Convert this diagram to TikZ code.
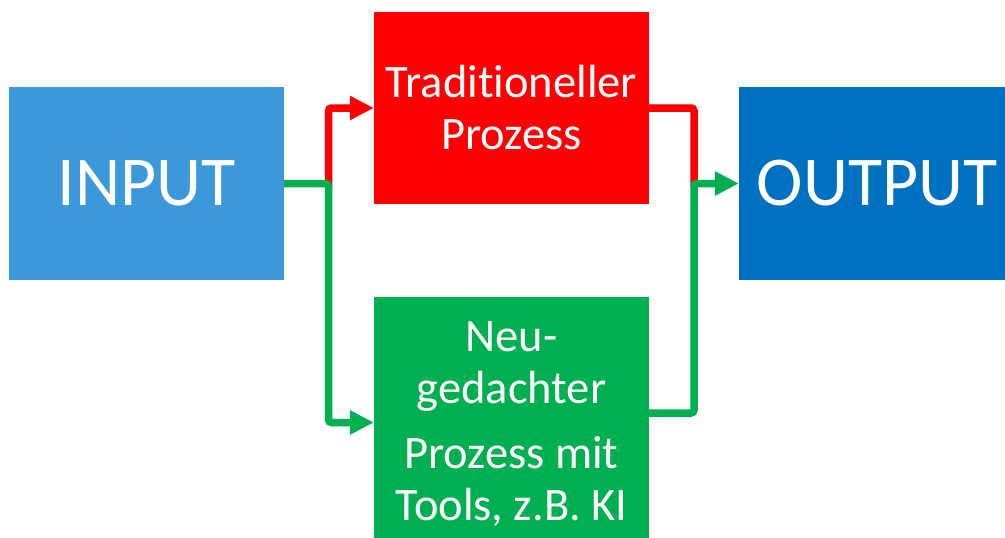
\documentclass[tikz,border=0pt]{standalone}
\usepackage{fontspec}
\setmainfont{Carlito}[Ligatures={NoCommon,NoRare,NoContextual},RawFeature={-liga;-clig;-dlig;-calt}]
\usetikzlibrary{arrows.meta}
\definecolor{inblue}{HTML}{3A98DB}
\definecolor{outblue}{HTML}{0070C0}
\definecolor{tradred}{HTML}{FF0000}
\definecolor{neugreen}{HTML}{00B050}
\tikzset{
  x=1pt, y=-1pt,
  procbox/.style={rectangle, draw=none, inner sep=0pt, minimum width=275pt, text=white, align=center,
    font=\fontsize{46.5}{52}\selectfont},
  endbox/.style={rectangle, draw=none, inner sep=0pt, minimum height=193pt, text=white,
    font=\fontsize{70}{84}\selectfont},
  conn/.style={line width=7.5pt, rounded corners=3pt},
  tip/.style={-{Triangle[length=24pt,width=23pt]}}
}
\begin{document}
\begin{tikzpicture}
\useasboundingbox (0,0) rectangle (1005,538);
\node[endbox, fill=inblue, minimum width=275pt] (input) at (146.5,183.5) {INPUT};
\node[endbox, fill=outblue, minimum width=276pt] (output) at (877,183.5) {OUTPUT};
\node[procbox, fill=tradred, minimum height=192pt] (trad) at (511.5,108) {Traditioneller\\Prozess};
\node[procbox, fill=neugreen, minimum height=241pt] (neu) at (511.5,417.5)
  {\rule{0pt}{43pt}Neu-\\gedachter\\[13pt]Prozess mit\\Tools, z.B. KI};
\coordinate (split1) at (328.5,183.5);
\coordinate (split2) at (694,183.5);
% red path
\draw[conn, tradred, tip] ([yshift=-3pt]split1) |- (trad.west);
\draw[conn, tradred] (trad.east) -| ([yshift=-3pt]split2);
% green path
\draw[conn, neugreen, tip] (input.east) -- (split1) |- ([yshift=-5pt]neu.west);
\draw[conn, neugreen, tip] ([yshift=4.5pt]neu.east) -| (split2) -- (output.west);
\end{tikzpicture}
\end{document}
